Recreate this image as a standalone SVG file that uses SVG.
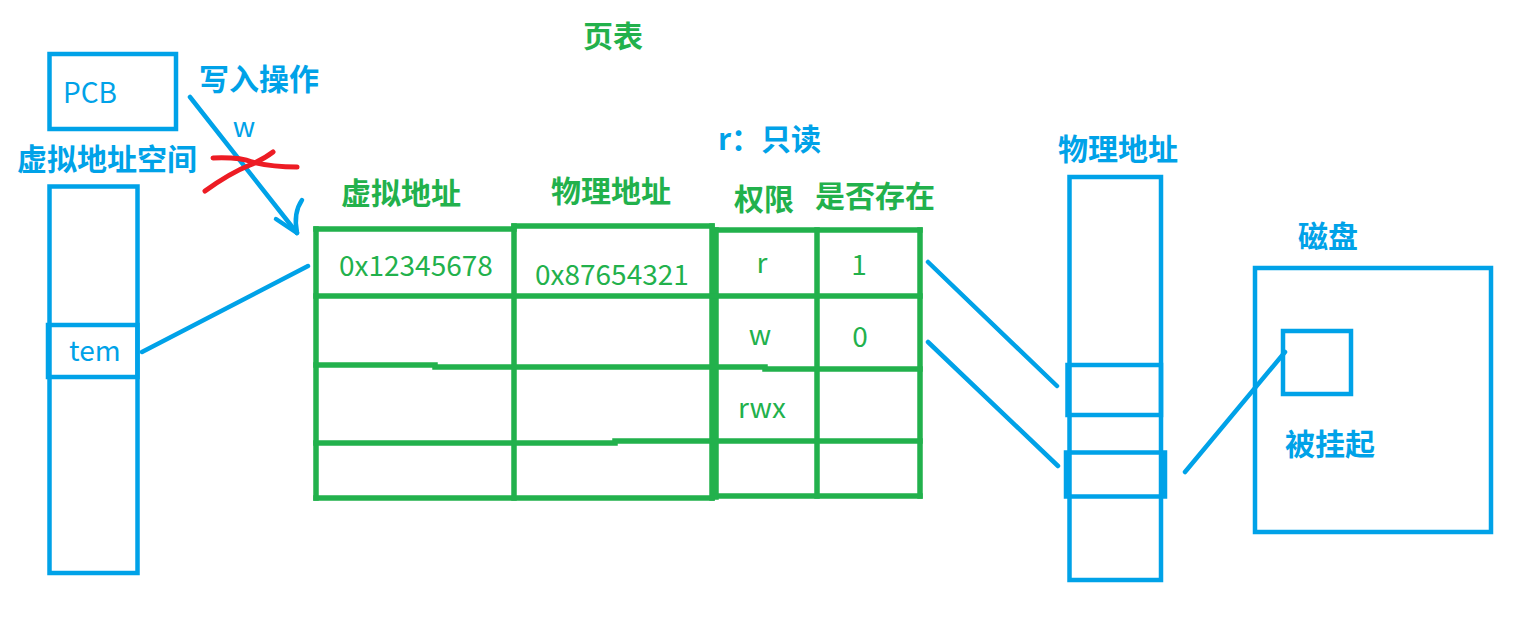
<svg xmlns="http://www.w3.org/2000/svg" width="1520" height="618" viewBox="0 0 1520 618">
<style>
.b{fill:none;stroke:#00a2e8;stroke-width:4.5}
.bl{fill:none;stroke:#00a2e8;stroke-width:4.5;stroke-linecap:round}
.g{fill:none;stroke:#22b14c;stroke-width:5.5;stroke-linecap:square}
.r{fill:none;stroke:#ed1c24;stroke-width:5;stroke-linecap:round}
.tb{font-family:"Noto Sans CJK SC","Noto Sans",sans-serif;font-size:28px;fill:#00a2e8}
.tg{font-family:"Noto Sans CJK SC","Noto Sans",sans-serif;font-size:28px;fill:#22b14c}
.h{font-weight:bold;font-size:30px}
.m{text-anchor:middle}
</style>
<rect width="1520" height="618" fill="#ffffff"/>
<g id="title">
<text class="tg h m" x="613" y="47">页表</text>
</g>
<g id="pcb">
<rect class="b" x="49.5" y="54" width="126.5" height="75"/>
<text class="tb" x="63" y="103">PCB</text>
</g>
<g id="write-label">
<text class="tb h m" x="259" y="90">写入操作</text>
<text class="tb m" x="244" y="137" font-size="26">w</text>
</g>
<g id="virtual-space">
<text class="tb h m" x="107" y="170">虚拟地址空间</text>
<rect class="b" x="49.5" y="186.5" width="88" height="386.5"/>
</g>
<g id="tem">
<rect class="b" x="48" y="325" width="89.5" height="52"/>
<text class="tb" x="69" y="361">tem</text>
</g>
<g id="perm-note">
<text class="tb h" x="718" y="150">r：只读</text>
</g>
<g id="page-table">
<text class="tg h m" x="401" y="204">虚拟地址</text>
<text class="tg h m" x="611" y="202">物理地址</text>
<text class="tg h m" x="764" y="210">权限</text>
<text class="tg h m" x="875" y="207">是否存在</text>
<path class="g" d="M316,229 L514,229 M514,226 L712,226 M716,230 L920,230"/>
<path class="g" d="M316,229 L316,498 M514,226 L514,498 M712,226 L712,498 M716,230 L716,497 M817,230 L817,496 M920,230 L920,496"/>
<path class="g" d="M316,296 L920,296"/>
<path class="g" d="M316,365 L435,365 M435,367 L712,367 M716,367 L765,367 M765,369 L920,369"/>
<path class="g" d="M316,443 L615,443 M615,441 L920,441"/>
<path class="g" d="M316,498 L712,498 M716,496 L920,496"/>
<text class="tg" x="339" y="276">0x12345678</text>
<text class="tg" x="535" y="285">0x87654321</text>
<text class="tg m" x="762" y="273">r</text>
<text class="tg m" x="859" y="275">1</text>
<text class="tg m" x="760" y="345">w</text>
<text class="tg m" x="860" y="347">0</text>
<text class="tg m" x="762" y="418">rwx</text>
</g>
<g id="physical-memory">
<text class="tb h m" x="1118" y="160">物理地址</text>
<rect class="b" x="1069.5" y="177" width="91.5" height="403"/>
<rect class="b" x="1067.5" y="365" width="93.5" height="50"/>
<rect class="b" x="1066" y="452.5" width="99" height="44"/>
</g>
<g id="disk">
<text class="tb h m" x="1328" y="247">磁盘</text>
<rect class="b" x="1255" y="268" width="236" height="264"/>
<rect class="b" x="1283" y="331" width="68" height="63"/>
<text class="tb h m" x="1330" y="455">被挂起</text>
</g>
<g id="connectors">
<path class="bl" d="M190,97 L297,233"/>
<path class="bl" d="M276,219 L297,233 M302,200 Q293,213 297,233"/>
<path class="r" d="M213,158 Q240,157 252,162 Q272,167 297,167"/>
<path class="r" d="M205,191 Q230,173 250,165 Q264,159 273,152"/>
<path class="bl" d="M142,352 L308,266"/>
<path class="bl" d="M928,262 L1057,386"/>
<path class="bl" d="M928,342 L1058,466"/>
<path class="bl" d="M1185,472 L1285,352"/>
</g>
</svg>
